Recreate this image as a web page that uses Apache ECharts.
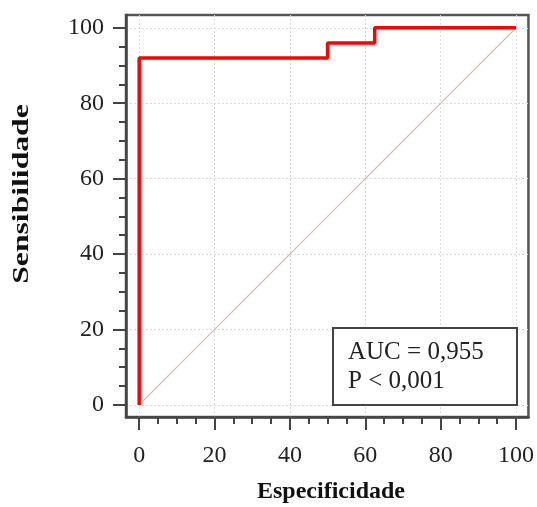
<!DOCTYPE html>
<html>
<head>
<meta charset="utf-8">
<script src="https://cdn.jsdelivr.net/npm/echarts@6/dist/echarts.min.js"></script>
<style>
  html, body { margin: 0; padding: 0; background: #fff; }
  #chart { width: 537px; height: 507px; }
</style>
</head>
<body>
<div id="chart"></div>
<script>
// ROC curve: x = especificidade, y = sensibilidade (both in %)
const rocX = [0, 0, 50, 50, 62.5, 62.5, 100];
const rocY = [0, 92, 92, 96, 96, 100, 100];
// chance (reference) diagonal
const diagX = [0, 100];
const diagY = [0, 100];
// axis ticks
const majorTicks = [0, 20, 40, 60, 80, 100];
const minorTicks = [0, 5, 10, 15, 20, 25, 30, 35, 40, 45, 50, 55, 60, 65, 70, 75, 80, 85, 90, 95, 100];
// statistics box
const statLines = ['AUC = 0,955', 'P < 0,001'];

const SERIF = '"Liberation Serif", "Times New Roman", serif';
const AXIS_COLOR = '#444';

const xRange = { min: -3.5, max: 103.3 };
const yRange = { min: -3.2, max: 103.4 };

function zip(a, b) { return a.map((v, i) => [v, b[i]]); }

const chart = echarts.init(document.getElementById('chart'), null, { renderer: 'canvas' });

const baseX = {
  type: 'value', min: xRange.min, max: xRange.max, position: 'bottom',
  axisLine: { onZero: false }
};
const baseY = {
  type: 'value', min: yRange.min, max: yRange.max, position: 'left',
  axisLine: { onZero: false }
};

chart.setOption({
  animation: false,
  backgroundColor: '#fff',
  grid: {
    left: 126, right: 8, top: 15, bottom: 90,
    show: true, borderColor: '#555', borderWidth: 2.5, backgroundColor: 'transparent'
  },
  xAxis: [
    Object.assign({}, baseX, {
      axisLine: { show: true, onZero: false, lineStyle: { color: AXIS_COLOR, width: 2.5 } },
      axisTick: { show: true, customValues: majorTicks, length: 13, lineStyle: { color: AXIS_COLOR, width: 2 } },
      axisLabel: { customValues: majorTicks, margin: 27, fontFamily: SERIF, fontSize: 24, color: '#222' },
      splitLine: { show: true, lineStyle: { color: '#dadada', type: [2, 2], width: 1 } }
    }),
    Object.assign({}, baseX, {
      axisLine: { show: false, onZero: false },
      axisTick: { show: true, customValues: minorTicks, length: 7, lineStyle: { color: AXIS_COLOR, width: 2 } },
      axisLabel: { show: false },
      splitLine: { show: false }
    })
  ],
  yAxis: [
    Object.assign({}, baseY, {
      axisLine: { show: true, onZero: false, lineStyle: { color: AXIS_COLOR, width: 2.5 } },
      axisTick: { show: true, customValues: majorTicks, length: 13, lineStyle: { color: AXIS_COLOR, width: 2 } },
      axisLabel: { customValues: majorTicks, margin: 22, fontFamily: SERIF, fontSize: 24, color: '#222' },
      splitLine: { show: true, lineStyle: { color: '#dadada', type: [2, 2], width: 1 } }
    }),
    Object.assign({}, baseY, {
      axisLine: { show: false, onZero: false },
      axisTick: { show: true, customValues: minorTicks, length: 7, lineStyle: { color: AXIS_COLOR, width: 2 } },
      axisLabel: { show: false },
      splitLine: { show: false }
    })
  ],
  series: [
    {
      name: 'Referência',
      type: 'line',
      data: zip(diagX, diagY),
      symbol: 'none',
      lineStyle: { color: '#dbb4b4', width: 1.2 },
      z: 2
    },
    {
      name: 'ROC',
      type: 'line',
      data: zip(rocX, rocY),
      symbol: 'none',
      lineStyle: { color: '#ff0000', width: 3.5 },
      z: 3
    }
  ],
  graphic: [
    {
      type: 'text',
      x: 331, y: 492, z: 100,
      style: {
        text: 'Especificidade', fontFamily: SERIF, fontWeight: 'bold', fontSize: 24, fill: '#111',
        align: 'center', verticalAlign: 'middle'
      }
    },
    {
      type: 'text',
      x: 22, y: 194, rotation: Math.PI / 2, scaleX: 1.32, z: 100,
      style: {
        text: 'Sensibilidade', fontFamily: SERIF, fontWeight: 'bold', fontSize: 24, fill: '#111',
        align: 'center', verticalAlign: 'middle'
      }
    },
    {
      type: 'group',
      x: 333, y: 328,
      children: [
        {
          type: 'rect', z: 100,
          shape: { x: 0, y: 0, width: 184, height: 77 },
          style: { fill: '#fff', stroke: '#444', lineWidth: 2 }
        },
        {
          type: 'text', z: 101,
          x: 15, y: 24,
          style: { text: statLines[0], fontFamily: SERIF, fontSize: 25, fill: '#222', verticalAlign: 'middle' }
        },
        {
          type: 'text', z: 101,
          x: 15, y: 53,
          style: { text: statLines[1], fontFamily: SERIF, fontSize: 25, fill: '#222', verticalAlign: 'middle' }
        }
      ]
    }
  ]
});
</script>
</body>
</html>
